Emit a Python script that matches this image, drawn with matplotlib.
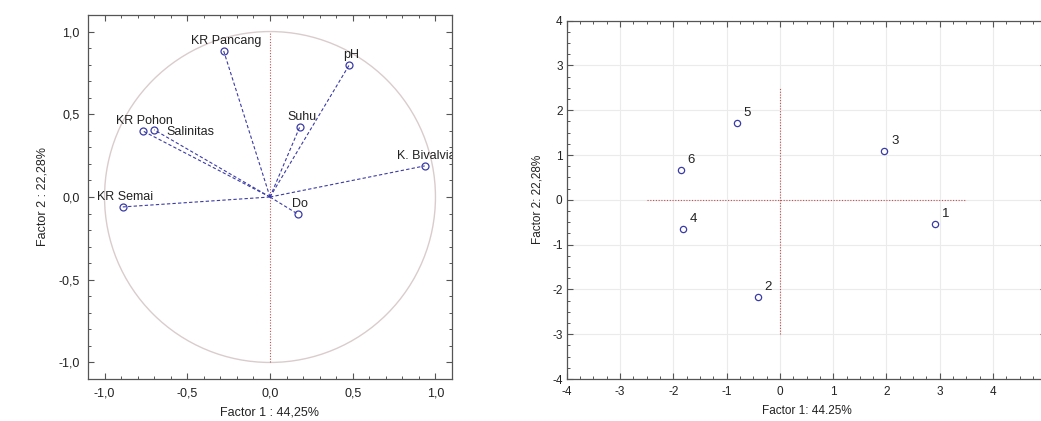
import numpy as np
import matplotlib
matplotlib.use("Agg")
import matplotlib.pyplot as plt
from matplotlib.patches import Circle
from matplotlib.ticker import MultipleLocator, FuncFormatter

plt.rcParams['font.family'] = ['Liberation Sans', 'DejaVu Sans']
plt.rcParams['axes.unicode_minus'] = False

# variable loadings (correlation circle)
variables = ['KR Pancang', 'pH', 'KR Pohon', 'Salinitas', 'Suhu', 'K. Bivalvia', 'KR Semai', 'Do']
load_f1 = [-0.28, 0.48, -0.77, -0.70, 0.18, 0.935, -0.89, 0.168]
load_f2 = [0.883, 0.80, 0.40, 0.406, 0.424, 0.188, -0.06, -0.103]

# case scores
cases = ['1', '2', '3', '4', '5', '6']
score_f1 = [2.91, -0.42, 1.96, -1.82, -0.81, -1.86]
score_f2 = [-0.54, -2.17, 1.09, -0.65, 1.72, 0.67]

# reference cross in score plot
cross_x = [-2.5, 3.5]
cross_y = [-3.0, 2.5]

score_xticks = [-4, -3, -2, -1, 0, 1, 2, 3, 4]

xlab_left = 'Factor 1 : 44,25%'
ylab_left = 'Factor 2 : 22,28%'
xlab_right = 'Factor 1: 44.25%'
ylab_right = 'Factor 2: 22,28%'

blue = '#3b3ba8'
red = '#c05050'
txt = '#222222'
spine = '#555555'

fig = plt.figure(figsize=(10.41, 4.21), dpi=100)
fig.patch.set_facecolor('white')

def style_axes(ax, fs):
    for s in ax.spines.values():
        s.set_color(spine)
        s.set_linewidth(0.9)
    ax.tick_params(which='both', direction='in', top=True, right=True,
                   colors=spine, labelcolor=txt, labelsize=fs)
    ax.tick_params(which='major', length=4, width=0.8)
    ax.tick_params(which='minor', length=2.5, width=0.7)

#### correlation circle
ax1 = fig.add_axes([88/1041, 1-379/421, 364/1041, 364/421])
style_axes(ax1, 9)
ax1.tick_params(axis='both', pad=6)
ax1.set_xlim(-1.1, 1.1)
ax1.set_ylim(-1.1, 1.1)
ax1.xaxis.set_major_locator(MultipleLocator(0.5))
ax1.yaxis.set_major_locator(MultipleLocator(0.5))
ax1.xaxis.set_minor_locator(MultipleLocator(0.1))
ax1.yaxis.set_minor_locator(MultipleLocator(0.1))
comma = FuncFormatter(lambda v, p: ('%.1f' % v).replace('.', ','))
ax1.xaxis.set_major_formatter(comma)
ax1.yaxis.set_major_formatter(comma)

ax1.add_patch(Circle((0, 0), 1, fill=False, edgecolor='#dacccc', linewidth=1.0))
ax1.plot([0, 0], [-1, 1], linestyle=(0, (1, 1.5)), color=red, linewidth=0.8)

for name, x, y in zip(variables, load_f1, load_f2):
    ax1.plot([0, x], [0, y], linestyle=(0, (3, 2)), color=blue, linewidth=0.8)
    ax1.plot(x, y, 'o', mfc='none', mec=blue, ms=5, mew=0.9)
    if name == 'Salinitas':
        ax1.annotate(name, (x, y), xytext=(9, -1.5), textcoords='offset points',
                     ha='left', va='center', fontsize=9, color=txt, clip_on=True)
    else:
        ax1.annotate(name, (x, y), xytext=(1.5, 7), textcoords='offset points',
                     ha='center', va='center', fontsize=9, color=txt, clip_on=True)

ax1.set_xlabel(xlab_left, fontsize=9, color=txt, labelpad=5)
ax1.set_ylabel(ylab_left, fontsize=9, color=txt, labelpad=7)

#### score plot
ax2 = fig.add_axes([566.7/1041, 1-379/421, 479.7/1041, 358.3/421])
style_axes(ax2, 8.5)
ax2.tick_params(axis='x', pad=5)
ax2.tick_params(axis='y', pad=3)
ax2.set_xlim(-4, 5)
ax2.set_ylim(-4, 4)
ax2.set_xticks(score_xticks)
ax2.yaxis.set_major_locator(MultipleLocator(1))
ax2.xaxis.set_minor_locator(MultipleLocator(0.25))
ax2.yaxis.set_minor_locator(MultipleLocator(0.25))
ax2.grid(True, which='major', color='#ebebeb', linewidth=0.8)
ax2.set_axisbelow(True)

ax2.plot(cross_x, [0, 0], linestyle=(0, (1, 1.5)), color=red, linewidth=0.8)
ax2.plot([0, 0], cross_y, linestyle=(0, (1, 1.5)), color=red, linewidth=0.8)
ax2.plot(score_f1, score_f2, 'o', mfc='none', mec=blue, ms=4.5, mew=0.9, linestyle='none')
for name, x, y in zip(cases, score_f1, score_f2):
    ax2.annotate(name, (x, y), xytext=(5, 3), textcoords='offset points',
                 ha='left', va='bottom', fontsize=9.5, color=txt)

ax2.set_xlabel(xlab_right, fontsize=8.5, color=txt, labelpad=5)
ax2.set_ylabel(ylab_right, fontsize=8.5, color=txt, labelpad=6)

plt.savefig('out.png', dpi=100)
